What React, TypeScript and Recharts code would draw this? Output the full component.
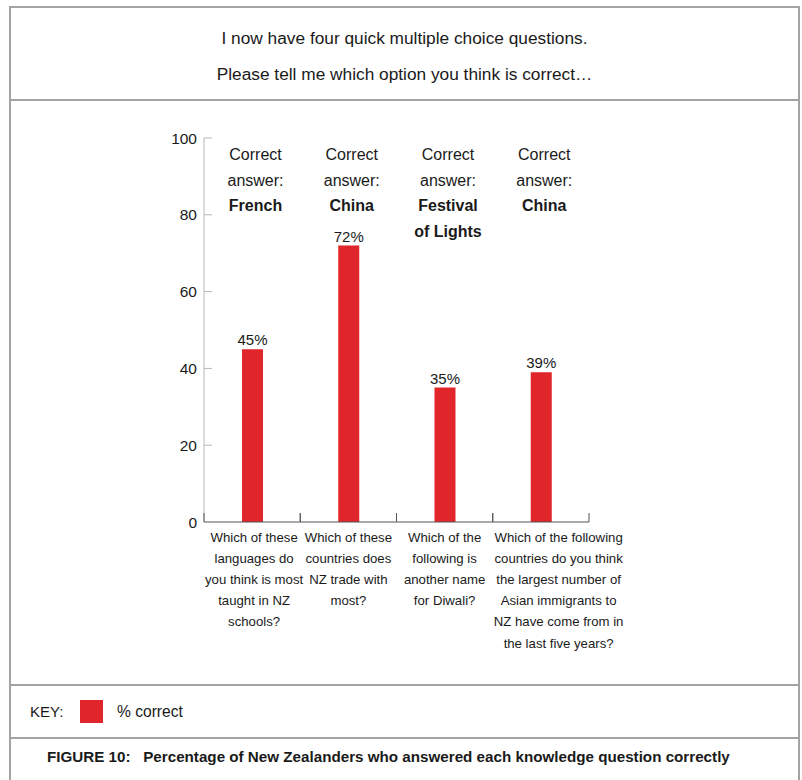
import React from 'react';
import { BarChart, Bar, XAxis, YAxis, LabelList } from 'recharts';

const FONT = '"Liberation Sans", Arial, Helvetica, sans-serif';
const RED = '#e0262b';
const FRAME = '#a3a3a3';

// survey results
const questionKeys = ['languages', 'trade', 'diwali', 'immigrants'];
const percentCorrect = [45, 72, 35, 39];
const questionLines = [
    ['Which of these', 'languages do', 'you think is most', 'taught in NZ', 'schools?'],
    ['Which of these', 'countries does', 'NZ trade with', 'most?'],
    ['Which of the', 'following is', 'another name', 'for Diwali?'],
    ['Which of the following', 'countries do you think', 'the largest number of', 'Asian immigrants to', 'NZ have come from in', 'the last five years?'],
];
const correctAnswers = [['French'], ['China'], ['Festival', 'of Lights'], ['China']];
const yTicks = [0, 20, 40, 60, 80, 100];

const data = questionKeys.map((key, i) => ({
    key,
    value: percentCorrect[i],
    answer: i,
}));

const CHART_W = 802;
const CHART_H = 583;
const X_AXIS_H = 150;
const MARGIN = { top: 37, right: 213, bottom: 12, left: 160 };
const Y_AXIS_W = 44;
const PLOT_H = CHART_H - MARGIN.top - MARGIN.bottom - X_AXIS_H;
const BAND_HALF = (CHART_W - MARGIN.left - Y_AXIS_W - MARGIN.right) / questionKeys.length / 2;
const Q_FONT = 13.2;

// rough text width, used to keep wide question labels from spilling left
let measureCtx: CanvasRenderingContext2D | null = null;
const textWidth = (s: string, size: number) => {
    if (!measureCtx) measureCtx = document.createElement('canvas').getContext('2d');
    if (!measureCtx) return s.length * size * 0.5;
    measureCtx.font = `${size}px ${FONT}`;
    return measureCtx.measureText(s).width;
};

const YTick = (props: any) => {
    const { x, y, payload } = props;
    return (
        <g>
            {payload.value !== 0 && <line x1={x} x2={x + 8} y1={y} y2={y} stroke="#b8b8b8" strokeWidth={1} />}
            <text x={x - 7} y={y} dy="0.36em" textAnchor="end" fontSize={15.5} fill="#1a1a1a" fontFamily={FONT}>
                {payload.value}
            </text>
        </g>
    );
};

const QuestionTick = (props: any) => {
    const { x, y, index } = props;
    const lines = questionLines[index] || [];
    const widest = Math.max(...lines.map((l) => textWidth(l, Q_FONT)));
    const cx = Math.max(x, x - BAND_HALF + widest / 2 + 1);
    return (
        <g>
            <line x1={x - BAND_HALF} x2={x - BAND_HALF} y1={y} y2={y - 9} stroke="#555" strokeWidth={1} />
            <line x1={x + BAND_HALF} x2={x + BAND_HALF} y1={y} y2={y - 9} stroke="#555" strokeWidth={1} />
            <text textAnchor="middle" fontSize={Q_FONT} fill="#1a1a1a" fontFamily={FONT}>
                {lines.map((l, i) => (
                    <tspan key={i} x={cx} y={y + 19.5 + i * 21.2}>{l}</tspan>
                ))}
            </text>
        </g>
    );
};

// "Correct answer:" block hanging from the top of the plot
const AnswerLabel = (props: any) => {
    const { x, y, width, height, value } = props;
    const top = y + height - PLOT_H;
    const bold = correctAnswers[value] || [];
    const rows = [{ t: 'Correct', b: false }, { t: 'answer:', b: false }, ...bold.map((t) => ({ t, b: true }))];
    return (
        <text textAnchor="middle" fontSize={16} fill="#1a1a1a" fontFamily={FONT}>
            {rows.map((r, i) => (
                <tspan key={i} x={x + width / 2 + 3} y={top + 22 + i * 25.5} fontWeight={r.b ? 'bold' : 'normal'}>{r.t}</tspan>
            ))}
        </text>
    );
};

const ValueLabel = (props: any) => {
    const { x, y, width, value } = props;
    return (
        <text x={x + width / 2} y={y - 4} textAnchor="middle" fontSize={15} fill="#1a1a1a" fontFamily={FONT}>
            {value}%
        </text>
    );
};

const hr = (top: number) => (
    <div style={{ position: 'absolute', left: 9, width: 791, top, height: 2, background: FRAME }} />
);

export default function App() {
    return (
        <div style={{ position: 'absolute', left: 0, top: 0, width: 802, height: 780, background: '#fff', fontFamily: FONT, color: '#1a1a1a', overflow: 'hidden' }}>
            <div style={{ position: 'absolute', left: 9, top: 6, width: 791, height: 800, boxSizing: 'border-box', border: `2px solid ${FRAME}` }} />
            {hr(99)}
            {hr(684)}
            {hr(737)}

            <div style={{ position: 'absolute', left: 9, width: 791, top: 20, textAlign: 'center', fontSize: 17.3, lineHeight: '36px' }}>
                <div>I now have four quick multiple choice questions.</div>
                <div>Please tell me which option you think is correct…</div>
            </div>

            <div style={{ position: 'absolute', left: 0, top: 101 }}>
                <BarChart width={CHART_W} height={CHART_H} data={data} margin={MARGIN} barCategoryGap={0}>
                    <XAxis
                        dataKey="key"
                        tick={<QuestionTick />}
                        tickSize={0}
                        tickMargin={0}
                        tickLine={false}
                        axisLine={{ stroke: '#555', strokeWidth: 1.2 }}
                        height={X_AXIS_H}
                        interval={0}
                    />
                    <YAxis
                        domain={[0, 100]}
                        ticks={yTicks}
                        width={Y_AXIS_W}
                        tick={<YTick />}
                        tickSize={0}
                        tickMargin={0}
                        tickLine={false}
                        axisLine={{ stroke: '#b8b8b8' }}
                    />
                    <Bar dataKey="value" fill={RED} barSize={21} isAnimationActive={false}>
                        <LabelList dataKey="value" content={<ValueLabel />} />
                        <LabelList dataKey="answer" content={<AnswerLabel />} />
                    </Bar>
                </BarChart>
            </div>

            <div style={{ position: 'absolute', left: 30, top: 702, fontSize: 15, lineHeight: '20px' }}>KEY:</div>
            <div style={{ position: 'absolute', left: 80, top: 700, width: 23, height: 23, background: RED }} />
            <div style={{ position: 'absolute', left: 117, top: 702, fontSize: 15.6, lineHeight: '20px' }}>% correct</div>

            <div style={{ position: 'absolute', left: 47, top: 747, fontSize: 15.2, lineHeight: '20px', fontWeight: 'bold' }}>
                FIGURE 10:&nbsp;&nbsp; Percentage of New Zealanders who answered each knowledge question correctly
            </div>
        </div>
    );
}
